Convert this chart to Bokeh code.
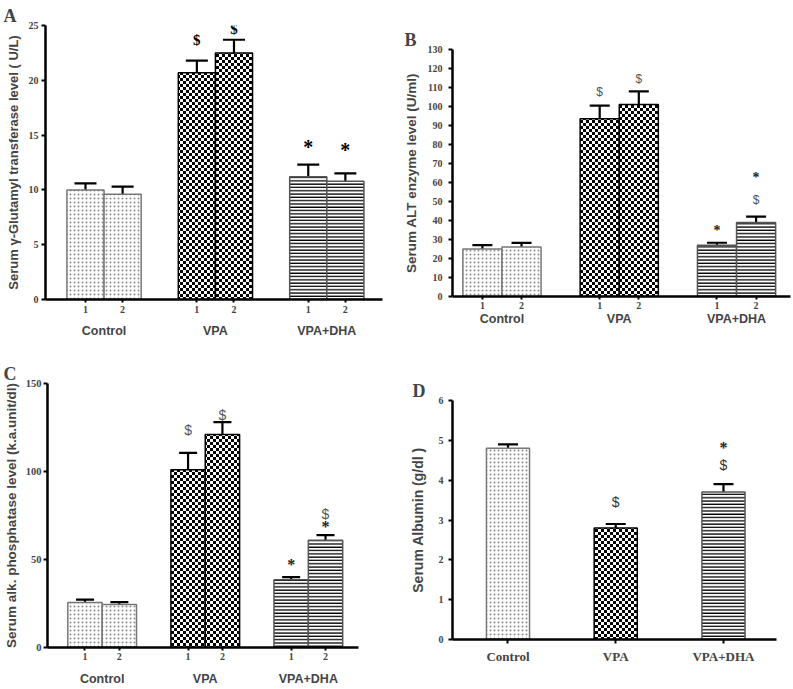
import zlib, struct, base64
from bokeh.plotting import figure
from bokeh.models import (ColumnDataSource, Range1d, FixedTicker, LinearAxis,
                          Whisker, TeeHead, ImageURLTexture, Title)
from bokeh.layouts import row, column
from bokeh.core.properties import value
from bokeh.embed import file_html
from bokeh.resources import INLINE

# ---------------- data ----------------
groups = ["Control", "VPA", "VPA+DHA"]
sub_labels = ["1", "2"]

ggt_mean = [10.0, 9.6, 20.7, 22.5, 11.2, 10.8]
ggt_err = [0.6, 0.7, 1.1, 1.2, 1.1, 0.7]
ggt_ticks = [0, 5, 10, 15, 20, 25]
ggt_mark_bar = [2, 3, 4, 5]
ggt_mark_sym = ["$", "$", "*", "*"]
ggt_mark_y = [23.7, 24.7, 13.9, 13.6]

alt_mean = [25.0, 26.0, 93.5, 101.0, 27.0, 39.0]
alt_err = [2.0, 2.2, 7.0, 7.0, 1.3, 3.0]
alt_ticks = [0, 10, 20, 30, 40, 50, 60, 70, 80, 90, 100, 110, 120, 130]
alt_mark_bar = [2, 3, 4, 5, 5]
alt_mark_sym = ["$", "$", "*", "$", "*"]
alt_mark_y = [107.5, 114.5, 35.0, 51.0, 62.4]

alp_mean = [25.5, 24.5, 101.0, 121.0, 38.5, 61.0]
alp_err = [1.7, 1.3, 9.6, 7.0, 1.5, 2.8]
alp_ticks = [0, 50, 100, 150]
alp_mark_bar = [2, 3, 4, 5, 5]
alp_mark_sym = ["$", "$", "*", "*", "$"]
alp_mark_y = [123.6, 132.0, 47.2, 68.9, 75.8]

alb_mean = [4.8, 2.8, 3.7]
alb_err = [0.1, 0.1, 0.2]
alb_ticks = [0, 1, 2, 3, 4, 5, 6]
alb_mark_bar = [1, 2, 2]
alb_mark_sym = ["$", "$", "*"]
alb_mark_y = [3.45, 4.37, 4.81]

# ---------------- textures ----------------
def png_uri(rows, fg, bg):
    h = len(rows); w = len(rows[0])
    raw = b"".join(b"\x00" + b"".join(bytes(fg if c == "1" else bg) for c in r) for r in rows)
    def chunk(t, d):
        return struct.pack(">I", len(d)) + t + d + struct.pack(">I", zlib.crc32(t + d) & 0xffffffff)
    png = (b"\x89PNG\r\n\x1a\n" + chunk(b"IHDR", struct.pack(">IIBBBBB", w, h, 8, 6, 0, 0, 0))
           + chunk(b"IDAT", zlib.compress(raw)) + chunk(b"IEND", b""))
    return "data:image/png;base64," + base64.b64encode(png).decode()

checker_rows = ["111000", "111000", "111000", "000111", "000111", "000111"]
CHECKER = ImageURLTexture(url=png_uri(checker_rows, (0, 0, 0, 255), (255, 255, 255, 255)), repetition="repeat")

STYLES = [
    dict(hatch_pattern="dot", hatch_scale=4, hatch_weight=1.0, hatch_color="#8a8a8a", line_color="#777777"),
    dict(hatch_pattern=value("checker"), hatch_extra={"checker": CHECKER}, line_color="#000000"),
    dict(hatch_pattern="horizontal_line", hatch_scale=3.3, hatch_weight=1.3, hatch_color="#000000", line_color="#555555"),
]

SERIF = "Liberation Serif"
SANS = "Liberation Sans"


def make_panel(letter, ylabel, means, errs, ticks, mk_bar, mk_sym, mk_y, geom, grouped=True, mark_cfg=None):
    W, H, bl, br, bt, bb, xr, yr = geom["W"], geom["H"], geom["bl"], geom["br"], geom["bt"], geom["bb"], geom["xr"], geom["yr"]
    p = figure(width=W, height=H, x_range=Range1d(*xr), y_range=Range1d(*yr),
               output_backend="svg", toolbar_location=None, tools="",
               min_border_left=bl, min_border_right=br, min_border_top=bt, min_border_bottom=bb,
               frame_align=False)
    p.outline_line_color = None
    p.xgrid.visible = False
    p.ygrid.visible = False
    p.background_fill_color = "white"
    p.border_fill_color = "white"

    if grouped:
        pos = [g * 3 + k for g in range(len(groups)) for k in range(len(sub_labels))]
        tick_text = {g * 3 + k: sub_labels[k] for g in range(len(groups)) for k in range(len(sub_labels))}
        gidx = [g for g in range(len(groups)) for k in range(len(sub_labels))]
        width = 1.0
    else:
        pos = list(range(len(groups)))
        tick_text = {i: groups[i] for i in range(len(groups))}
        gidx = list(range(len(groups)))
        width = geom["bw"]

    for g in range(len(groups)):
        idx = [i for i in range(len(pos)) if gidx[i] == g]
        src = ColumnDataSource(dict(x=[pos[i] for i in idx], top=[means[i] for i in idx]))
        p.vbar(x="x", top="top", bottom=0, width=width, source=src, fill_color="white",
               line_width=1.5, **STYLES[g])

    esrc = ColumnDataSource(dict(x=pos, upper=[m + e for m, e in zip(means, errs)],
                                 lower=[m - e for m, e in zip(means, errs)]))
    cap = geom.get("cap", 20)
    w = Whisker(base="x", upper="upper", lower="lower", source=esrc, dimension="height",
                line_width=2.2, line_color="black",
                upper_head=TeeHead(size=cap, line_width=2.2, line_color="black"),
                lower_head=TeeHead(size=cap, line_width=2.2, line_color="black"))
    p.add_layout(w)

    for sym in ["$", "*"]:
        ids = [i for i in range(len(mk_sym)) if mk_sym[i] == sym]
        if not ids:
            continue
        cfg = mark_cfg[sym]
        msrc = ColumnDataSource(dict(x=[pos[mk_bar[i]] for i in ids], y=[mk_y[i] for i in ids],
                                     t=[mk_sym[i] for i in ids]))
        p.text(x="x", y="y", text="t", source=msrc, text_align="center", text_baseline="middle",
               text_font=value(cfg[0]), text_font_size=cfg[1], text_font_style=cfg[2], text_color=cfg[3])

    ya = p.yaxis[0]
    ya.ticker = FixedTicker(ticks=ticks)
    ya.axis_line_width = 2.5
    ya.axis_line_color = "black"
    ya.major_tick_line_width = 2
    ya.major_tick_out = 4
    ya.major_tick_in = 0
    ya.minor_tick_line_color = None
    ya.major_label_text_font = SERIF
    ya.major_label_text_font_style = "bold"
    ya.major_label_text_font_size = geom.get("ytick_size", "10px")
    ya.major_label_standoff = geom.get("ystand", 3)
    ya.axis_label = ylabel
    ya.axis_label_text_font = SANS
    ya.axis_label_text_font_style = "bold"
    ya.axis_label_text_font_size = geom.get("ylab_size", "13px")
    ya.axis_label_standoff = geom.get("ylabstand", 5)

    xa = p.xaxis[0]
    xa.ticker = FixedTicker(ticks=pos)
    xa.major_label_overrides = tick_text
    xa.axis_line_width = 2.5
    xa.axis_line_color = "black"
    xa.major_tick_line_width = 2
    xa.major_tick_out = geom.get("xtick", 3)
    xa.major_tick_in = 0
    xa.minor_tick_line_color = None
    xa.major_label_standoff = geom.get("xstand", 2)
    xa.major_label_text_font = SERIF
    xa.major_label_text_font_style = "bold"
    xa.major_label_text_font_size = geom.get("xfont", "10px")

    if grouped:
        centers = [g * 3 + 0.5 for g in range(len(groups))]
        ga = LinearAxis(ticker=FixedTicker(ticks=centers),
                        major_label_overrides={c: groups[i] for i, c in enumerate(centers)},
                        axis_line_color=None, major_tick_line_color=None, minor_tick_line_color=None,
                        major_tick_out=0, major_tick_in=0, major_label_standoff=geom.get("gstand", 6),
                        major_label_text_font=SANS, major_label_text_font_style="bold",
                        major_label_text_font_size="12.5px")
        p.add_layout(ga, "below")

    t = Title(text=letter, text_font=SERIF, text_font_style="bold", text_font_size="18px",
              align="left", offset=geom["toff"], standoff=0)
    p.add_layout(t, "above")
    if geom.get("spacer"):
        sp = Title(text=" ", text_font_size=geom["spacer"], text_alpha=0.0, standoff=0,
                   align="left")
        p.add_layout(sp, "above")
    return p


mark_serif = {"$": (SERIF, "15px", "bold", "black"), "*": (SERIF, "20px", "bold", "black")}
mark_sans = {"$": (SANS, "12px", "normal", "#555555"), "*": (SERIF, "14px", "bold", "#222222")}
mark_c = {"$": (SANS, "14px", "normal", "#555555"), "*": (SERIF, "16px", "bold", "#222222")}
mark_d = {"$": (SANS, "14px", "normal", "#333333"), "*": (SERIF, "16px", "bold", "#222222")}

pA = make_panel("A", "Serum \u03b3-Glutamyl transferase level ( U/L)", ggt_mean, ggt_err, ggt_ticks,
                ggt_mark_bar, ggt_mark_sym, ggt_mark_y,
                dict(W=400, H=340, bl=45, br=18, bt=25, bb=40, xr=(-1.077, 8.0), yr=(0, 25), cap=22,
                     ystand=3, ylabstand=5, xstand=3, gstand=8, toff=-42, ylab_size="13px"),
                mark_cfg=mark_serif)

pB = make_panel("B", "Serum ALT enzyme level (U/ml)", alt_mean, alt_err, alt_ticks,
                alt_mark_bar, alt_mark_sym, alt_mark_y,
                dict(W=392, H=340, bl=51, br=2, bt=49, bb=44, xr=(-0.765, 7.88), yr=(0, 130), cap=20,
                     ystand=6, ylabstand=6, xtick=3, xstand=2, gstand=0, toff=-48, spacer="22px",
                     ylab_size="13.5px"),
                mark_cfg=mark_sans)

pC = make_panel("C", "Serum alk. phosphatase level (k.a.unit/dl)", alp_mean, alp_err, alp_ticks,
                alp_mark_bar, alp_mark_sym, alp_mark_y,
                dict(W=400, H=348, bl=47, br=42, bt=43, bb=40, xr=(-1.091, 7.96), yr=(0, 150), cap=18,
                     ystand=2, ylabstand=4, gstand=9, toff=-44, spacer="6px", ytick_size="10.5px",
                     ylab_size="13.5px"),
                mark_cfg=mark_c)

pD = make_panel("D", "Serum Albumin (g/dl )", alb_mean, alb_err, alb_ticks,
                alb_mark_bar, alb_mark_sym, alb_mark_y,
                dict(W=392, H=348, bl=52, br=16, bt=60, bb=49, xr=(-0.515, 2.492), yr=(0, 6), cap=20, bw=0.4,
                     ystand=5, ylabstand=10, xtick=4, xstand=5, xfont="13px", toff=-40, spacer="17px",
                     ylab_size="14px"),
                grouped=False, mark_cfg=mark_d)

layout = column(row(pA, pB), row(pC, pD))
open("out.html", "w").write(file_html(layout, INLINE))
